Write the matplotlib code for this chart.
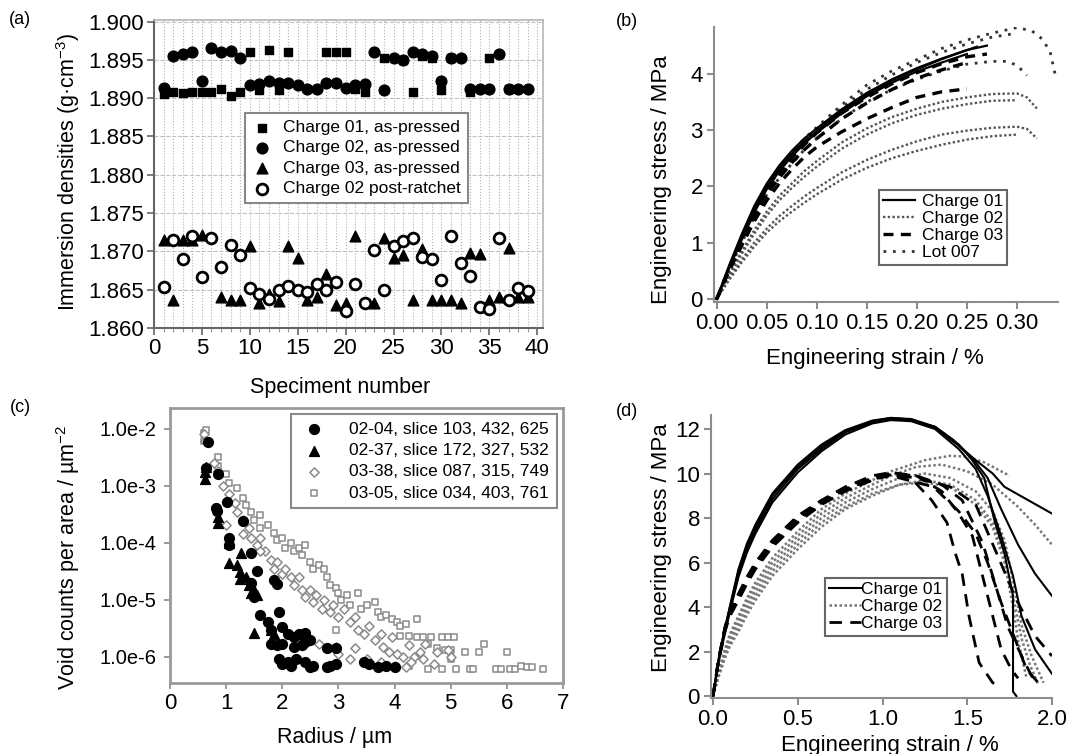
import matplotlib
matplotlib.use("Agg")
import matplotlib.pyplot as plt
from matplotlib.ticker import MultipleLocator, FormatStrFormatter, FuncFormatter, FixedLocator, NullLocator
from matplotlib.lines import Line2D

plt.rcParams['font.family'] = ['Liberation Sans', 'DejaVu Sans']
plt.rcParams['mathtext.fontset'] = 'custom'
plt.rcParams['mathtext.rm'] = 'Liberation Sans'
plt.rcParams['mathtext.it'] = 'Liberation Sans:italic'

# ---------------- (a) immersion densities ----------------
ch01_x = [1, 2, 3, 4, 5, 6, 7, 8, 9, 10, 11, 12, 13, 14, 18, 19, 20, 21, 22,
          24, 26, 27, 28, 29, 30, 31, 33, 35, 37]
ch01_y = [1.8906, 1.8908, 1.8907, 1.8908, 1.8908, 1.8908, 1.8912, 1.8903, 1.8908,
          1.8960, 1.8910, 1.8963, 1.8910, 1.8960, 1.8960, 1.8960, 1.8960, 1.8912,
          1.8908, 1.8953, 1.8950, 1.8908, 1.8955, 1.8953, 1.8910, 1.8953, 1.8908,
          1.8953, 1.8912]
ch02_x = [1, 2, 3, 4, 5, 6, 7, 8, 9, 10, 11, 12, 13, 14, 15, 16, 17, 18, 19, 20,
          21, 22, 23, 24, 25, 26, 27, 28, 29, 30, 31, 32, 33, 34, 35, 36, 37, 38, 39]
ch02_y = [1.8913, 1.8955, 1.8957, 1.8960, 1.8922, 1.8965, 1.8960, 1.8962, 1.8953,
          1.8917, 1.8918, 1.8922, 1.8920, 1.8920, 1.8917, 1.8912, 1.8912, 1.8920,
          1.8920, 1.8913, 1.8917, 1.8918, 1.8960, 1.8910, 1.8953, 1.8950, 1.8960,
          1.8958, 1.8955, 1.8922, 1.8953, 1.8953, 1.8912, 1.8912, 1.8912, 1.8957,
          1.8912, 1.8912, 1.8912]
ch03_x = [1, 2, 3, 4, 5, 7, 8, 9, 10, 11, 12, 13, 14, 15, 16, 17, 18, 19, 20, 21,
          23, 24, 25, 26, 27, 28, 29, 30, 31, 32, 33, 34, 35, 36, 37, 38, 39]
ch03_y = [1.8715, 1.8637, 1.8715, 1.8715, 1.8722, 1.8640, 1.8637, 1.8637, 1.8707,
          1.8632, 1.8645, 1.8635, 1.8707, 1.8692, 1.8637, 1.8640, 1.8670, 1.8630,
          1.8632, 1.8720, 1.8632, 1.8718, 1.8692, 1.8695, 1.8637, 1.8703, 1.8637,
          1.8637, 1.8637, 1.8632, 1.8698, 1.8697, 1.8637, 1.8640, 1.8705, 1.8640,
          1.8640]
post_x = [1, 2, 3, 4, 5, 6, 7, 8, 9, 10, 11, 12, 13, 14, 15, 16, 17, 18, 19, 20,
          21, 22, 23, 24, 25, 26, 27, 28, 29, 30, 31, 32, 33, 34, 35, 36, 37, 38, 39]
post_y = [1.8653, 1.8715, 1.8690, 1.8720, 1.8667, 1.8717, 1.8680, 1.8708, 1.8695,
          1.8652, 1.8645, 1.8638, 1.8650, 1.8655, 1.8650, 1.8647, 1.8658, 1.8650,
          1.8660, 1.8622, 1.8657, 1.8632, 1.8702, 1.8650, 1.8707, 1.8713, 1.8717,
          1.8693, 1.8690, 1.8663, 1.8720, 1.8685, 1.8668, 1.8628, 1.8625, 1.8718,
          1.8637, 1.8652, 1.8648]

# ---------------- (b) tensile curves, strain / % vs stress / MPa ----------------
b_rise = [0, 0.0125, 0.025, 0.0375, 0.05, 0.0625, 0.075, 0.0875, 0.10, 0.125, 0.15, 0.175, 0.20, 0.225, 0.25]
b_ch01_strain = [b_rise + [0.27], b_rise + [0.26], b_rise]
b_ch01_stress = [[0, 0.6, 1.15, 1.65, 2.05, 2.37, 2.63, 2.85, 3.03, 3.37, 3.66, 3.9, 4.1, 4.27, 4.42, 4.5],
                 [0, 0.58, 1.1, 1.6, 2.0, 2.32, 2.58, 2.8, 2.98, 3.34, 3.63, 3.88, 4.08, 4.26, 4.42, 4.48],
                 [0, 0.55, 1.05, 1.53, 1.95, 2.27, 2.53, 2.76, 2.95, 3.3, 3.6, 3.84, 4.04, 4.2, 4.35]]
b_ch02_strain = [b_rise + [0.275, 0.30, 0.31, 0.32], b_rise + [0.275, 0.30],
                 b_rise + [0.275, 0.30, 0.31, 0.32], b_rise + [0.275, 0.30]]
b_ch02_stress = [[0, 0.45, 0.85, 1.22, 1.55, 1.83, 2.05, 2.27, 2.45, 2.78, 3.03, 3.23, 3.38, 3.5, 3.58, 3.64, 3.65, 3.58, 3.38],
                 [0, 0.42, 0.8, 1.16, 1.48, 1.75, 1.97, 2.17, 2.35, 2.67, 2.92, 3.12, 3.27, 3.38, 3.46, 3.52, 3.53],
                 [0, 0.37, 0.7, 1.0, 1.25, 1.47, 1.65, 1.82, 1.97, 2.25, 2.47, 2.65, 2.8, 2.92, 2.99, 3.04, 3.06, 3.02, 2.85],
                 [0, 0.34, 0.65, 0.93, 1.18, 1.38, 1.55, 1.71, 1.86, 2.12, 2.33, 2.5, 2.63, 2.74, 2.83, 2.89, 2.92]]
b_ch03_strain = [b_rise + [0.27], b_rise, b_rise]
b_ch03_stress = [[0, 0.55, 1.05, 1.5, 1.9, 2.22, 2.5, 2.74, 2.95, 3.3, 3.58, 3.82, 4.02, 4.18, 4.3, 4.35],
                 [0, 0.52, 1.0, 1.45, 1.85, 2.15, 2.42, 2.65, 2.85, 3.2, 3.48, 3.72, 3.92, 4.07, 4.2],
                 [0, 0.5, 0.95, 1.38, 1.75, 2.05, 2.3, 2.52, 2.7, 2.97, 3.2, 3.4, 3.58, 3.68, 3.73]]
b_lot007_strain = [b_rise + [0.275, 0.30, 0.315, 0.325, 0.333, 0.338], b_rise + [0.275, 0.30],
                   b_rise + [0.275, 0.29, 0.30, 0.31]]
b_lot007_stress = [[0, 0.58, 1.1, 1.6, 2.0, 2.33, 2.6, 2.85, 3.05, 3.45, 3.8, 4.05, 4.25, 4.45, 4.6, 4.72, 4.82, 4.76, 4.62, 4.4, 4.0],
                   [0, 0.55, 1.05, 1.53, 1.95, 2.28, 2.55, 2.8, 3.0, 3.4, 3.72, 3.98, 4.2, 4.38, 4.53, 4.65, 4.72],
                   [0, 0.52, 1.0, 1.45, 1.85, 2.15, 2.4, 2.65, 2.85, 3.2, 3.5, 3.72, 3.9, 4.05, 4.17, 4.22, 4.22, 4.15, 3.97]]

# ---------------- (c) void counts (radius / um, count / um^2) ----------------
c_0204 = [(0.68, 5.9e-3), (0.65, 2.0e-3), (0.85, 1.6e-3), (0.82, 4.1e-4), (0.84, 3.6e-4),
          (1.02, 5.2e-4), (1.05, 1.2e-4), (1.05, 9e-5), (1.3, 2.4e-4), (1.45, 6.6e-5),
          (1.55, 3.2e-5), (1.45, 2.0e-5), (1.5, 1.1e-5), (1.85, 2.2e-5), (1.9, 1.9e-5),
          (1.6, 5.4e-6), (1.75, 4.0e-6), (1.95, 6.2e-6), (1.8, 3.0e-6), (2.0, 3.3e-6),
          (2.1, 2.5e-6), (2.2, 2.2e-6), (2.3, 2.5e-6), (2.4, 2.6e-6), (2.4, 1.8e-6),
          (2.5, 2.0e-6), (1.8, 1.7e-6), (1.9, 1.6e-6), (2.0, 1.7e-6), (2.2, 1.5e-6),
          (2.35, 1.6e-6), (1.95, 9e-7), (2.1, 8e-7), (2.25, 9e-7), (2.4, 8e-7),
          (2.55, 7e-7), (2.0, 7.5e-7), (2.15, 7e-7), (2.5, 6.5e-7), (2.8, 1.4e-6),
          (2.95, 1.4e-6), (2.85, 7e-7), (2.95, 7.5e-7), (2.8, 6.5e-7), (3.45, 8e-7),
          (3.55, 7.5e-7), (3.7, 6.5e-7), (3.85, 7e-7), (4.0, 6.5e-7)]
c_0237 = [(0.62, 1.3e-3), (0.62, 1.7e-3), (0.65, 2.1e-3), (0.85, 2.2e-4), (0.85, 2.8e-4),
          (1.05, 4.4e-5), (1.05, 1.0e-4), (1.26, 6.6e-5), (1.25, 3.0e-5), (1.25, 2.3e-5),
          (1.35, 2.5e-5), (1.45, 1.3e-5), (1.5, 1.5e-5), (1.55, 1.2e-5), (1.5, 2.6e-6),
          (1.8, 3.0e-6), (1.85, 2.5e-6), (2.35, 1.9e-6), (1.2, 4.0e-5), (1.4, 1.8e-5)]
c_0338 = [(0.6, 8e-3), (0.62, 6e-3), (0.78, 2.5e-3), (0.85, 1.8e-3), (0.95, 1.0e-3),
          (1.05, 7e-4), (1.15, 5e-4), (1.2, 3.5e-4), (1.3, 2.5e-4), (1.4, 1.8e-4),
          (1.45, 1.2e-4), (1.55, 9e-5), (1.6, 1.2e-4), (1.7, 7e-5), (1.8, 5e-5),
          (1.85, 3.5e-5), (1.9, 4.5e-5), (2.0, 2.8e-5), (2.05, 3.5e-5), (2.15, 2.5e-5),
          (2.2, 1.8e-5), (2.3, 2.5e-5), (2.35, 1.5e-5), (2.4, 1.1e-5), (2.5, 1.5e-5),
          (2.55, 9e-6), (2.6, 1.2e-5), (2.7, 7e-6), (2.75, 1e-5), (2.85, 6e-6),
          (2.9, 8e-6), (3.0, 5e-6), (3.1, 7e-6), (3.2, 4e-6), (3.3, 5e-6), (3.35, 3e-6),
          (3.45, 2.5e-6), (3.55, 3.5e-6), (3.65, 2e-6), (3.75, 2.5e-6), (3.8, 1.5e-6),
          (3.9, 1.2e-6), (3.95, 2.2e-6), (4.05, 1.1e-6), (4.15, 1e-6), (4.25, 1.6e-6),
          (4.35, 1.0e-6), (4.45, 1.2e-6), (4.55, 1.7e-6), (4.75, 1.2e-6), (5.0, 1e-6),
          (4.95, 1.3e-6), (3.2, 9e-7), (2.65, 1.7e-6), (2.95, 1.5e-6), (3.5, 9e-7),
          (3.75, 8e-7), (4.0, 7e-7), (4.2, 6.5e-7), (4.3, 8e-7), (4.5, 9e-7),
          (4.7, 7.5e-7), (3.0, 1.1e-6), (3.3, 1.4e-6), (1.0, 2e-4), (1.3, 1.4e-4),
          (1.6, 7e-5)]
c_0305 = [(0.6, 8.5e-3), (0.65, 9.5e-3), (0.6, 6e-3), (0.85, 3.2e-3), (0.85, 2.2e-3),
          (1.0, 1.6e-3), (1.05, 1.1e-3), (1.2, 9e-4), (1.3, 6e-4), (1.35, 4.5e-4),
          (1.45, 3.5e-4), (1.5, 2.5e-4), (1.6, 3e-4), (1.6, 1.8e-4), (1.75, 2e-4),
          (1.85, 1.5e-4), (1.9, 1.1e-4), (2.0, 1.2e-4), (2.05, 8e-5), (2.15, 1.0e-4),
          (2.2, 7e-5), (2.3, 8e-5), (2.35, 6e-5), (2.4, 9e-5), (2.5, 4.5e-5),
          (2.55, 3.5e-5), (2.65, 4e-5), (2.75, 3.5e-5), (2.8, 2.5e-5), (2.85, 1.8e-5),
          (2.95, 1.6e-5), (3.0, 1.3e-5), (3.05, 1.0e-5), (3.15, 1.2e-5), (3.2, 8e-6),
          (3.35, 1.3e-5), (3.4, 7e-6), (3.5, 8e-6), (3.65, 9e-6), (3.7, 6e-6),
          (3.75, 5e-6), (3.85, 5.5e-6), (3.95, 4.5e-6), (4.05, 4e-6), (4.1, 3.5e-6),
          (4.2, 3.8e-6), (4.4, 4.5e-6), (4.1, 2.3e-6), (4.25, 2.3e-6), (4.4, 2.2e-6),
          (4.5, 2.2e-6), (4.65, 2.2e-6), (4.85, 2.2e-6), (4.95, 2.2e-6), (5.05, 2.2e-6),
          (4.6, 1.7e-6), (4.75, 1.4e-6), (4.9, 1.3e-6), (5.0, 1.3e-6), (5.25, 1.2e-6),
          (5.5, 1.2e-6), (5.6, 1.7e-6), (6.0, 1.2e-6), (4.6, 6e-7), (4.85, 6e-7),
          (5.1, 6e-7), (5.35, 6e-7), (5.4, 6e-7), (5.8, 6e-7), (5.9, 6e-7), (6.05, 6e-7),
          (6.15, 6e-7), (6.25, 7e-7), (6.35, 6.5e-7), (6.45, 6.5e-7), (6.65, 6e-7),
          (5.0, 9e-7), (4.25, 7e-7), (2.95, 3e-6)]
c_labels = ['02-04, slice 103, 432, 625', '02-37, slice 172, 327, 532',
            '03-38, slice 087, 315, 749', '03-05, slice 034, 403, 761']

# ---------------- (d) tensile curves ----------------
d_rise1 = [0, 0.02, 0.04, 0.07, 0.1, 0.15, 0.2, 0.25, 0.35, 0.5, 0.64, 0.78, 0.94, 1.05, 1.17, 1.31]
d_ch01_strain = [d_rise1 + [1.45, 1.55, 1.65, 1.72, 1.86, 2.0],
                 d_rise1 + [1.45, 1.55, 1.62, 1.7, 1.8, 1.9, 2.0],
                 d_rise1 + [1.45, 1.55, 1.62, 1.7, 1.77, 1.82, 1.9, 2.0],
                 d_rise1 + [1.42, 1.52, 1.6, 1.66, 1.72, 1.77, 1.77, 1.79]]
d_ch01_stress = [[0, 1.0, 1.95, 3.0, 4.0, 5.6, 6.75, 7.6, 9.0, 10.3, 11.2, 11.9, 12.35, 12.5, 12.42, 12.05,
                  11.25, 10.6, 10.0, 9.4, 8.8, 8.2],
                 [0, 0.95, 1.9, 2.9, 3.9, 5.45, 6.6, 7.45, 8.85, 10.2, 11.1, 11.85, 12.3, 12.45, 12.4, 12.1,
                  11.3, 10.5, 9.8, 8.4, 6.8, 5.5, 4.5],
                 [0, 0.9, 1.8, 2.8, 3.8, 5.35, 6.45, 7.3, 8.7, 10.05, 11.0, 11.75, 12.25, 12.4, 12.35, 12.0,
                  11.1, 10.2, 9.0, 7.2, 5.4, 3.6, 2.1, 1.0],
                 [0, 1.05, 2.0, 3.05, 4.05, 5.7, 6.85, 7.7, 9.1, 10.4, 11.3, 11.95, 12.38, 12.5, 12.45, 12.1,
                  11.5, 10.7, 9.8, 7.9, 6.4, 4.5, 0.2, 0.0]]
d_rise2 = [0, 0.03, 0.07, 0.1, 0.15, 0.2, 0.25, 0.35, 0.5, 0.64, 0.78, 0.94]
d_ch02_strain = [d_rise2 + [1.05, 1.25, 1.4, 1.5, 1.6, 1.75],
                 d_rise2 + [1.05, 1.2, 1.35, 1.5, 1.65, 1.8, 1.9, 2.0],
                 d_rise2 + [1.1, 1.25, 1.4, 1.55, 1.65, 1.72, 1.77, 1.82, 1.88, 1.95],
                 d_rise2 + [1.1, 1.25, 1.4, 1.55, 1.65, 1.72, 1.77, 1.82, 1.87, 1.92],
                 d_rise2 + [1.1, 1.25, 1.4, 1.55, 1.65, 1.72, 1.77, 1.8, 1.85]]
d_ch02_stress = [[0, 1.0, 2.1, 2.8, 3.6, 4.4, 5.1, 6.2, 7.4, 8.4, 9.1, 9.7, 10.1, 10.6, 10.8, 10.75, 10.5, 9.9],
                 [0, 0.95, 2.0, 2.7, 3.5, 4.25, 4.9, 6.0, 7.2, 8.2, 8.9, 9.5, 9.9, 10.3, 10.4, 10.1, 9.5, 8.5, 7.7, 6.8],
                 [0, 0.9, 1.9, 2.55, 3.3, 4.05, 4.7, 5.8, 7.0, 8.0, 8.7, 9.3, 9.8, 10.0, 9.8, 9.2, 8.3, 7.0, 5.2, 3.2, 1.8, 0.6],
                 [0, 0.85, 1.8, 2.4, 3.1, 3.85, 4.5, 5.6, 6.8, 7.8, 8.5, 9.1, 9.5, 9.7, 9.5, 8.8, 7.8, 6.3, 4.5, 2.6, 1.4, 0.5],
                 [0, 0.8, 1.7, 2.25, 2.9, 3.65, 4.3, 5.4, 6.6, 7.6, 8.4, 9.0, 9.5, 9.6, 9.4, 8.6, 7.6, 6.0, 4.0, 2.5, 0.8]]
d_ch03_strain = [d_rise2 + [1.05, 1.18, 1.29, 1.38, 1.43, 1.47, 1.51, 1.57, 1.65, 1.7],
                 d_rise2 + [1.05, 1.2, 1.35, 1.45, 1.53, 1.59, 1.65, 1.7, 1.76, 1.8],
                 d_rise2 + [1.05, 1.2, 1.35, 1.47, 1.59, 1.67, 1.74, 1.84, 1.9],
                 d_rise2 + [1.05, 1.2, 1.4, 1.55, 1.68, 1.78, 1.9, 2.0],
                 d_rise2 + [1.05, 1.15, 1.3, 1.45, 1.55, 1.62, 1.7, 1.78, 1.85, 1.93]]
d_ch03_stress = [[0, 1.5, 3.0, 3.75, 4.5, 5.25, 5.9, 6.9, 8.0, 8.7, 9.3, 9.8, 10.0, 9.7, 8.8, 7.8, 6.4, 5.5, 3.6, 1.5, 0.6, 0.4],
                 [0, 1.55, 3.1, 3.85, 4.6, 5.35, 6.0, 7.0, 8.1, 8.8, 9.4, 9.9, 10.05, 9.9, 9.2, 8.2, 7.2, 5.4, 3.6, 2.1, 1.2, 0.8],
                 [0, 1.5, 3.0, 3.7, 4.4, 5.15, 5.8, 6.8, 7.9, 8.65, 9.25, 9.8, 10.0, 9.9, 9.5, 8.8, 6.9, 4.9, 3.1, 1.5, 0.6],
                 [0, 1.45, 2.9, 3.6, 4.3, 5.05, 5.7, 6.7, 7.8, 8.6, 9.2, 9.7, 9.95, 9.8, 9.4, 8.6, 6.3, 4.5, 2.7, 1.8],
                 [0, 1.5, 3.05, 3.8, 4.5, 5.25, 5.9, 6.9, 8.0, 8.7, 9.3, 9.75, 9.9, 9.7, 9.4, 8.3, 7.3, 6.0, 4.2, 2.6, 1.2, 0.5]]

W, H = 1073, 754
AXC = '#8c8c8c'


def box(l, t, r, b):
    return [l / W, 1 - b / H, (r - l) / W, (b - t) / H]


def ftxt(x, y, s, **kw):
    fig.text(x / W, 1 - y / H, s, ha='center', va='center', **kw)


def tensile_axes(ax):
    for side in ('top', 'right'):
        ax.spines[side].set_visible(False)
    for side in ('left', 'bottom'):
        ax.spines[side].set_color(AXC)
        ax.spines[side].set_linewidth(1.5)
    ax.tick_params(direction='out', length=5, width=1.5, color=AXC, labelsize=16, pad=3)


def boxed_legend(ax, handles, labels, x, y, **kw):
    leg = ax.legend(handles, labels, loc='upper left', bbox_to_anchor=(x / W, 1 - y / H),
                    bbox_transform=fig.transFigure, frameon=True, fancybox=False, framealpha=1,
                    borderaxespad=0, **kw)
    leg.get_frame().set_linewidth(1.5)
    return leg


fig = plt.figure(figsize=(W / 100, H / 100), dpi=100)

# ---- (a)
ax = fig.add_axes(box(154, 20, 543, 328))
ax.scatter(ch01_x, ch01_y, marker='s', s=30, c='k', label='Charge 01, as-pressed', zorder=3)
ax.scatter(ch02_x, ch02_y, marker='o', s=60, c='k', label='Charge 02, as-pressed', zorder=3)
ax.scatter(ch03_x, ch03_y, marker='^', s=60, c='k', label='Charge 03, as-pressed', zorder=3)
ax.scatter(post_x, post_y, marker='o', s=60, facecolors='white', edgecolors='k', linewidths=2,
           label='Charge 02 post-ratchet', zorder=3)
ax.set_xlim(0, 40.6)
ax.set_ylim(1.860, 1.9002)
ax.xaxis.set_major_locator(MultipleLocator(5))
ax.xaxis.set_minor_locator(MultipleLocator(1))
ax.yaxis.set_major_locator(MultipleLocator(0.005))
ax.yaxis.set_major_formatter(FormatStrFormatter('%.3f'))
ax.grid(which='both', axis='x', ls=':', color='#b0b0b0', lw=0.8)
ax.grid(which='major', axis='y', ls='--', color='#c0c0c0', lw=0.8)
ax.set_axisbelow(True)
for side in ('left', 'bottom'):
    ax.spines[side].set_color('#666666')
    ax.spines[side].set_linewidth(1.5)
for side in ('top', 'right'):
    ax.spines[side].set_color('#b5b5b5')
    ax.spines[side].set_linewidth(1.2)
ax.tick_params(which='major', direction='out', length=5, width=1.2, color='#666666', labelsize=16, pad=2)
ax.tick_params(which='minor', direction='out', length=3, width=0.8, color='#999999')
h, l = ax.get_legend_handles_labels()
boxed_legend(ax, h, l, 245, 113, fontsize=12.5, edgecolor='#888888', handletextpad=0.6,
             borderpad=0.4, labelspacing=0.3, handlelength=1.2)
ftxt(68, 172, 'Immersion densities (g·cm$^{-3}$)', rotation=90, fontsize=15.5)
ftxt(340, 387, 'Speciment number', fontsize=15.5)
ftxt(20, 20, '(a)', fontsize=13)

# ---- (b)
ax = fig.add_axes(box(714, 27, 1058, 301.7))
sty_ch01 = dict(color='k', lw=1.6, ls='-')
sty_ch02 = dict(color='#555555', lw=1.7, ls=(0, (1, 1)))
sty_ch03 = dict(color='k', lw=2.4, ls=(0, (3, 2.2)))
sty_lot = dict(color='#333333', lw=2.0, ls=(0, (1, 2.4)))
for xs, ys in zip(b_ch02_strain, b_ch02_stress):
    ax.plot(xs, ys, **sty_ch02)
for xs, ys in zip(b_lot007_strain, b_lot007_stress):
    ax.plot(xs, ys, **sty_lot)
for xs, ys in zip(b_ch03_strain, b_ch03_stress):
    ax.plot(xs, ys, **sty_ch03)
for xs, ys in zip(b_ch01_strain, b_ch01_stress):
    ax.plot(xs, ys, **sty_ch01)
ax.set_xlim(-0.0027, 0.341)
ax.set_ylim(-0.048, 4.83)
ax.xaxis.set_major_locator(FixedLocator([0, 0.05, 0.10, 0.15, 0.20, 0.25, 0.30]))
ax.xaxis.set_major_formatter(FormatStrFormatter('%.2f'))
ax.yaxis.set_major_locator(FixedLocator([0, 1, 2, 3, 4]))
tensile_axes(ax)
handles = [Line2D([], [], **sty_ch01), Line2D([], [], **sty_ch02),
           Line2D([], [], **sty_ch03), Line2D([], [], **sty_lot)]
boxed_legend(ax, handles, ['Charge 01', 'Charge 02', 'Charge 03', 'Lot 007'], 879, 190,
             fontsize=12.5, edgecolor='#666666', handletextpad=0.4, borderpad=0.25,
             labelspacing=0.1, handlelength=1.8)
ftxt(662, 180, 'Engineering stress / MPa', rotation=90, fontsize=16)
ftxt(875, 358, 'Engineering strain / %', fontsize=16)
ftxt(627, 22, '(b)', fontsize=13)

# ---- (c)
ax = fig.add_axes(box(170, 408, 563, 683))
ax.set_yscale('log')
ax.scatter([p[0] for p in c_0204], [p[1] for p in c_0204], marker='o', s=50, c='k', zorder=4,
           label=c_labels[0])
ax.scatter([p[0] for p in c_0237], [p[1] for p in c_0237], marker='^', s=50, c='k', zorder=4,
           label=c_labels[1])
ax.scatter([p[0] for p in c_0338], [p[1] for p in c_0338], marker='D', s=22, facecolors='white',
           edgecolors='#8a8a8a', linewidths=1.1, zorder=3, label=c_labels[2])
ax.scatter([p[0] for p in c_0305], [p[1] for p in c_0305], marker='s', s=22, facecolors='white',
           edgecolors='#8a8a8a', linewidths=1.1, zorder=2, label=c_labels[3])
ax.set_xlim(0, 7)
ax.set_ylim(10 ** -6.46, 10 ** -1.64)
ax.xaxis.set_major_locator(MultipleLocator(1))
ax.yaxis.set_major_locator(FixedLocator([1e-2, 1e-3, 1e-4, 1e-5, 1e-6]))
ax.yaxis.set_minor_locator(NullLocator())
ax.yaxis.set_major_formatter(FuncFormatter(lambda v, p: f'{v:.1e}'.replace('e-0', 'e-')))
for side in ax.spines.values():
    side.set_color('#9a9a9a')
    side.set_linewidth(2)
ax.tick_params(axis='x', direction='out', length=4, width=1.2, color='#888888', labelsize=16)
ax.tick_params(axis='y', direction='out', length=4, width=1.2, color='#888888', labelsize=14.5, pad=6)
h, l = ax.get_legend_handles_labels()
boxed_legend(ax, h, l, 291, 414, fontsize=12.5, edgecolor='#8a8a8a', handletextpad=1.1,
             borderpad=0.45, labelspacing=0.35, handlelength=1.8)
ftxt(68, 557, 'Void counts per area / µm$^{-2}$', rotation=90, fontsize=15.5)
ftxt(335, 738, 'Radius / µm', fontsize=15.5)
ftxt(20, 408, '(c)', fontsize=13)

# ---- (d)
ax = fig.add_axes(box(711, 415, 1052, 698.3))
sty_d1 = dict(color='k', lw=1.5, ls='-')
sty_d2 = dict(color='#777777', lw=1.8, ls=(0, (1, 1)))
sty_d3 = dict(color='k', lw=2.0, ls=(0, (4.5, 3)))
for xs, ys in zip(d_ch02_strain, d_ch02_stress):
    ax.plot(xs, ys, **sty_d2)
for xs, ys in zip(d_ch03_strain, d_ch03_stress):
    ax.plot(xs, ys, **sty_d3)
for xs, ys in zip(d_ch01_strain, d_ch01_stress):
    ax.plot(xs, ys, **sty_d1)
ax.set_xlim(-0.012, 2.0)
ax.set_ylim(-0.1, 12.63)
ax.xaxis.set_major_locator(FixedLocator([0, 0.5, 1.0, 1.5, 2.0]))
ax.xaxis.set_major_formatter(FormatStrFormatter('%.1f'))
ax.yaxis.set_major_locator(FixedLocator([0, 2, 4, 6, 8, 10, 12]))
tensile_axes(ax)
handles = [Line2D([], [], **sty_d1), Line2D([], [], **sty_d2), Line2D([], [], **sty_d3)]
boxed_legend(ax, handles, ['Charge 01', 'Charge 02', 'Charge 03'], 825, 578,
             fontsize=12.5, edgecolor='#666666', handletextpad=0.05, borderpad=0.25,
             labelspacing=0.1, handlelength=1.8)
ftxt(662, 548, 'Engineering stress / MPa', rotation=90, fontsize=16)
ftxt(890, 745, 'Engineering strain / %', fontsize=16)
ftxt(627, 412, '(d)', fontsize=13)

fig.savefig('out.png', dpi=100)
